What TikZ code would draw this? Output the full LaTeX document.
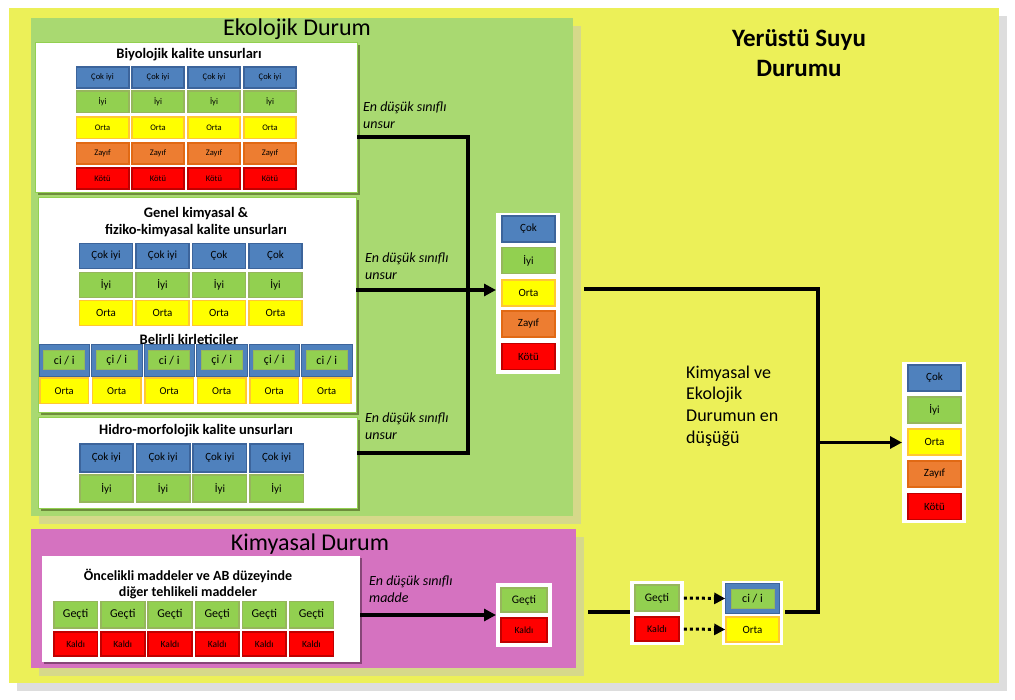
\documentclass[tikz,border=0pt]{standalone}
\usepackage{fontspec}
\setmainfont{Carlito}
\usetikzlibrary{arrows.meta,shadows}
\definecolor{outerY}{RGB}{236,240,88}
\definecolor{grayS}{RGB}{221,221,221}
\definecolor{ecoG}{RGB}{169,217,113}
\definecolor{tanS}{RGB}{214,217,138}
\definecolor{pinkK}{RGB}{213,114,192}
\definecolor{boxLine}{RGB}{146,208,80}
\definecolor{boxShG}{RGB}{110,140,60}
\definecolor{boxShP}{RGB}{135,70,120}
\definecolor{blueF}{RGB}{79,129,189}
\definecolor{blueD}{RGB}{60,100,155}
\definecolor{greenF}{RGB}{146,208,80}
\definecolor{greenD}{RGB}{150,182,92}
\definecolor{yelF}{RGB}{255,255,0}
\definecolor{yelD}{RGB}{255,200,50}
\definecolor{orF}{RGB}{237,125,49}
\definecolor{orD}{RGB}{225,105,20}
\definecolor{redF}{RGB}{255,0,0}
\definecolor{redD}{RGB}{192,0,0}
\newcommand\myfs[1]{\fontsize{#1}{1.2\dimexpr#1pt\relax}\selectfont}
\begin{document}
\begin{tikzpicture}[x=1pt,y=-1pt,
  panel/.style={rectangle, inner sep=0pt, outer sep=0pt},
  tanshadow/.style={drop shadow={shadow xshift=8pt,shadow yshift=-8pt,fill=tanS,opacity=1}},
  wbox/.style={panel, fill=white, draw=boxLine, line width=0.8pt,
     drop shadow={shadow xshift=3pt,shadow yshift=-3pt,fill=boxShG,opacity=1}},
  pbox/.style={panel, fill=white,
     drop shadow={shadow xshift=2pt,shadow yshift=-2pt,fill=boxShP,opacity=1}},
  rbox/.style={panel, fill=white},
  cell/.style={rectangle, inner sep=0pt, line width=1.6pt, text=black},
  cb/.style={cell, fill=blueF, draw=blueD},
  cg/.style={cell, fill=greenF, draw=greenD},
  cy/.style={cell, fill=yelF, draw=yelD},
  co/.style={cell, fill=orF, draw=orD},
  cr/.style={cell, fill=redF, draw=redD},
  sz/.style 2 args={minimum width=#1pt, minimum height=#2pt},
  boxtitle/.style={font=\bfseries\myfs{14.5}, align=center, inner sep=0pt},
  lbl/.style={font=\itshape\myfs{14}, align=left, anchor=west, inner sep=0pt},
  conn/.style={line width=3.2pt, draw=black},
  arr/.style={conn, -{Triangle[length=12pt,width=12pt]}},
  dotarr/.style={line width=3pt, dash pattern=on 3pt off 3pt, -{Triangle[length=11pt,width=11pt]}}
]
\useasboundingbox (0,0) rectangle (1015,700);
\fill[white] (0,0) rectangle (1015,700);

% panels
\node[panel, fill=outerY, minimum width=990pt, minimum height=675pt,
  drop shadow={shadow xshift=8pt,shadow yshift=-8pt,fill=grayS,opacity=1}] (outer) at (504,345.5) {};
\node[panel, fill=ecoG, minimum width=542pt, minimum height=498pt, tanshadow] (eco) at (302,267) {};
\node[panel, fill=pinkK, minimum width=545pt, minimum height=139pt, tanshadow] (kim) at (303.5,598.5) {};

\node[font=\myfs{24}, inner sep=0pt] (ecoT) at (297,29) {Ekolojik Durum};
\node[font=\myfs{24}, inner sep=0pt] (kimT) at (310,544) {Kimyasal Durum};
\node[font=\bfseries\myfs{25}, align=center, inner sep=0pt] (ysT) at (799,53) {Yerüstü Suyu\\Durumu};

% white boxes
\node[wbox, minimum width=322pt, minimum height=150pt] (bio) at (196,117) {};
\node[wbox, minimum width=318pt, minimum height=215pt] (genel) at (197,304.5) {};
\node[wbox, minimum width=319pt, minimum height=91pt] (hidro) at (197.5,462.5) {};
\node[pbox, minimum width=318pt, minimum height=106pt] (oncel) at (201,609) {};

% Biyolojik
\node[boxtitle] (bioT) at (189,55) {Biyolojik kalite unsurları};
\foreach \c [count=\i] in {102.5,158,214,270}{
  \node[cb, sz={52.4}{21.4}, font=\myfs{8.5}] (bio1\i) at (\c,77.5) {Çok iyi};
  \node[cg, sz={52.4}{21.4}, font=\myfs{8.5}] (bio2\i) at (\c,102) {İyi};
  \node[cy, sz={52.4}{21.4}, font=\myfs{8.5}] (bio3\i) at (\c,128) {Orta};
  \node[co, sz={52.4}{21.4}, font=\myfs{8.5}] (bio4\i) at (\c,153.5) {Zayıf};
  \node[cr, sz={52.4}{21.4}, font=\myfs{8.5}] (bio5\i) at (\c,178.5) {Kötü};
}

% Genel
\node[boxtitle] (genT) at (196,222) {Genel kimyasal \&\\fiziko-kimyasal kalite unsurları};
\foreach \c/\t [count=\i] in {106/{Çok iyi},162.5/{Çok iyi},219/{Çok},275.5/{Çok}}{
  \node[cb, sz={53}{25}, font=\myfs{11}] (gen1\i) at (\c,256) {\t};
  \node[cg, sz={53}{25}, font=\myfs{11}] (gen2\i) at (\c,285) {İyi};
  \node[cy, sz={53}{25}, font=\myfs{11}] (gen3\i) at (\c,313) {Orta};
}
\node[boxtitle] (belT) at (189,339) {Belirli kirleticiler};
\foreach \c/\t [count=\i] in {64.25/{ci / i},116.75/{çi / i},169.25/{ci / i},221.75/{çi / i},274.25/{çi / i},326.75/{ci / i}}{
  \node[cell, fill=blueF, draw=blueD, line width=0.6pt, sz={50.5}{32.5}] (blb\i) at (\c,360.5) {};
  \node[cg, line width=1pt, sz={41}{19}, font=\myfs{12}] (blg\i) at (\c,360.5) {\t};
  \node[cy, sz={48.4}{25.4}, font=\myfs{10.5}] (blo\i) at (\c,391) {Orta};
}

% Hidro
\node[boxtitle] (hidT) at (196,431) {Hidro-morfolojik kalite unsurları};
\foreach \c [count=\i] in {106.4,163.1,219.9,276.6}{
  \node[cb, sz={53.4}{27.4}, font=\myfs{11}] (hid1\i) at (\c,458) {Çok iyi};
  \node[cg, sz={53.4}{27.4}, font=\myfs{11}] (hid2\i) at (\c,488.5) {İyi};
}

% Oncelikli
\node[boxtitle, font=\bfseries\myfs{14}] (oncT) at (188,584) {Öncelikli maddeler ve AB düzeyinde\\diğer tehlikeli maddeler};
\foreach \c [count=\i] in {75.6,122.8,170,217.2,264.3,311.5}{
  \node[cg, sz={43.8}{26.4}, font=\myfs{12}] (onc1\i) at (\c,614.5) {Geçti};
  \node[cr, sz={43.8}{24}, font=\myfs{9.5}] (onc2\i) at (\c,644) {Kaldı};
}

% middle result
\node[rbox, minimum width=64pt, minimum height=161pt] (midres) at (528,293.5) {};
\node[cb, sz={53}{26}, font=\myfs{11}] (mr1) at (528.5,229) {Çok};
\node[cg, sz={53}{26}, font=\myfs{11}] (mr2) at (528.5,260.5) {İyi};
\node[cy, sz={53}{26}, font=\myfs{11}] (mr3) at (528.5,293) {Orta};
\node[co, sz={53}{26}, font=\myfs{11}] (mr4) at (528.5,324) {Zayıf};
\node[cr, sz={53}{26}, font=\myfs{11}] (mr5) at (528.5,356.5) {Kötü};

% final result
\node[rbox, minimum width=64pt, minimum height=161pt] (final) at (934,442.5) {};
\node[cb, sz={53}{26}, font=\myfs{11}] (fr1) at (934.5,378) {Çok};
\node[cg, sz={53}{26}, font=\myfs{11}] (fr2) at (934.5,410) {İyi};
\node[cy, sz={53}{26}, font=\myfs{11}] (fr3) at (934.5,442) {Orta};
\node[co, sz={53}{26}, font=\myfs{11}] (fr4) at (934.5,474) {Zayıf};
\node[cr, sz={53}{26}, font=\myfs{11}] (fr5) at (934.5,506.5) {Kötü};

% chemical result
\node[rbox, minimum width=56pt, minimum height=64pt] (chemres) at (524,615) {};
\node[cg, sz={46}{24}, font=\myfs{11.5}] (cr1) at (524,600) {Geçti};
\node[cr, sz={46}{24}, font=\myfs{9.5}] (cr2) at (524,630) {Kaldı};

% Gecti/Kaldi box
\node[rbox, minimum width=54pt, minimum height=64pt] (gk) at (657,613) {};
\node[cg, sz={44}{26}, font=\myfs{11.5}] (gk1) at (657,598) {Geçti};
\node[cr, sz={44}{24}, font=\myfs{10}] (gk2) at (657,629) {Kaldı};

% ci / i box
\node[rbox, minimum width=61pt, minimum height=64pt] (ci) at (752.5,613) {};
\node[cell, fill=blueF, draw=blueD, line width=0.6pt, sz={54}{30}] (ci1) at (752.5,598.5) {};
\node[cg, line width=1pt, sz={43}{19}, font=\myfs{12}] (ci1g) at (752.5,598.5) {ci / i};
\node[cy, sz={53}{25.4}, font=\myfs{11}] (ci2) at (752.5,629.5) {Orta};

% labels
\node[lbl] (l1) at (363,115) {En düşük sınıflı\\unsur};
\node[lbl] (l2) at (365,266) {En düşük sınıflı\\unsur};
\node[lbl] (l3) at (365,426) {En düşük sınıflı\\unsur};
\node[lbl] (l4) at (369,589) {En düşük sınıflı\\madde};
\node[font=\myfs{18}, align=left, anchor=west, inner sep=0pt] (l5) at (686,406)
  {Kimyasal ve\\Ekolojik\\Durumun en\\düşüğü};

% connectors
\coordinate (j1) at (468,137);
\coordinate (j2) at (468,453);
\draw[conn] (bio.east |- j1) -- (j1) -- (j2) -- (hidro.east |- j2);
\draw[arr] (genel.east |- 0,290) -- (midres.west |- 0,290);
\draw[arr] (oncel.east |- chemres.west) -- (chemres.west);
\coordinate (m1) at (584,289);
\coordinate (j3) at (818,289);
\coordinate (j4) at (818,612);
\draw[conn] (m1) -- (j3) -- (j4) -- ([xshift=2pt]ci.east |- j4);
\draw[arr] (j3 |- final.west) -- (final.west);
\coordinate (p1) at (588,612);
\draw[conn] (p1) -- (gk.west |- p1);
\draw[dotarr] ([xshift=4pt]gk1.east) -- (ci1.west);
\draw[dotarr] ([xshift=4pt]gk2.east) -- (ci2.west);
\end{tikzpicture}
\end{document}
